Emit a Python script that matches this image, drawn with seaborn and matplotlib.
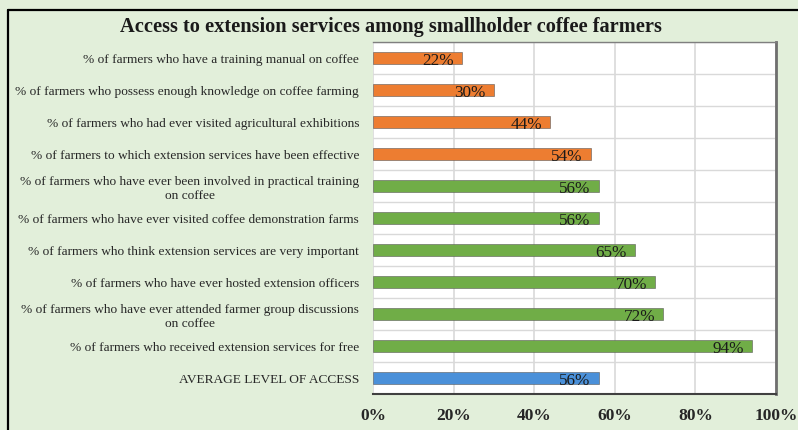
import matplotlib.pyplot as plt
import seaborn as sns
from matplotlib.lines import Line2D
from matplotlib.ticker import FixedLocator, PercentFormatter

categories = [
    "% of farmers who have a training manual on coffee",
    "% of farmers who possess enough knowledge on coffee farming",
    "% of farmers who had ever visited agricultural exhibitions",
    "% of farmers to which extension services have been effective",
    "% of farmers who have ever been involved in practical training\non coffee",
    "% of farmers who have ever visited coffee demonstration farms",
    "% of farmers who think extension services are very important",
    "% of farmers who have ever hosted extension officers",
    "% of farmers who have ever attended farmer group discussions\non coffee",
    "% of farmers who received extension services for free",
    "AVERAGE LEVEL OF ACCESS",
]
values = [22, 30, 44, 54, 56, 56, 65, 70, 72, 94, 56]
groups = ["low"] * 4 + ["high"] * 6 + ["avg"]
group_colors = {"low": "#ED7D31", "high": "#70AD47", "avg": "#4A90D9"}

sns.set_style("white")
plt.rcParams["font.family"] = ["Liberation Serif", "DejaVu Serif"]

bg = "#E2EFDA"
fig = plt.figure(figsize=(7.98, 4.30), dpi=100, facecolor=bg)
ax = fig.add_axes([0.4674, 0.0837, 0.505, 0.8186])

ax = sns.barplot(
    x=values,
    y=categories,
    hue=groups,
    palette=group_colors,
    saturation=1,
    orient="h",
    width=0.36,
    dodge=False,
    legend=False,
    edgecolor="#5a5a5a",
    linewidth=0.4,
    ax=ax,
)

for i, v in enumerate(values):
    ax.text(v - 2.0, i + 0.1, f"{v}%", ha="right", va="center", fontsize=12.3, color="#1a1a1a")

ax.set_xlim(0, 100)
ax.set_ylim(len(categories) - 0.5, -0.5)
ax.set_xticks([0, 20, 40, 60, 80, 100])
ax.xaxis.set_major_formatter(PercentFormatter(decimals=0))
ax.yaxis.set_minor_locator(FixedLocator([i + 0.5 for i in range(-1, len(categories))]))
ax.grid(axis="x", which="major", color="#d9d9d9", linewidth=1.2)
ax.grid(axis="y", which="minor", color="#d9d9d9", linewidth=1.0)
ax.set_axisbelow(True)
ax.set_facecolor("white")

ax.tick_params(axis="x", length=0, pad=10, labelsize=12.5, labelcolor="#262626")
ax.tick_params(axis="y", which="both", length=0, pad=10, labelsize=9.6, labelcolor="#262626")
for lbl in ax.get_xticklabels():
    lbl.set_fontweight("bold")
for lbl in ax.get_yticklabels():
    lbl.set_multialignment("center")
    lbl.set_linespacing(1.25)
ax.set_xlabel("")
ax.set_ylabel("")

ax.spines["left"].set_visible(False)
ax.spines["top"].set_color("#7f7f7f")
ax.spines["top"].set_linewidth(1.0)
ax.spines["right"].set_color("#6f6f6f")
ax.spines["right"].set_linewidth(2.0)
ax.spines["bottom"].set_color("#404040")
ax.spines["bottom"].set_linewidth(1.5)

fig.text(0.49, 0.937, "Access to extension services among smallholder coffee farmers",
         ha="center", va="center", fontsize=14.7, fontweight="bold", color="#1a1a1a")

fig.add_artist(Line2D([0.01, 0.01], [0, 0.977], transform=fig.transFigure, color="black", linewidth=1.6))
fig.add_artist(Line2D([0.01, 1.0], [0.977, 0.977], transform=fig.transFigure, color="black", linewidth=1.6))

plt.savefig("out.png", dpi=100, facecolor=bg)
plt.close()
